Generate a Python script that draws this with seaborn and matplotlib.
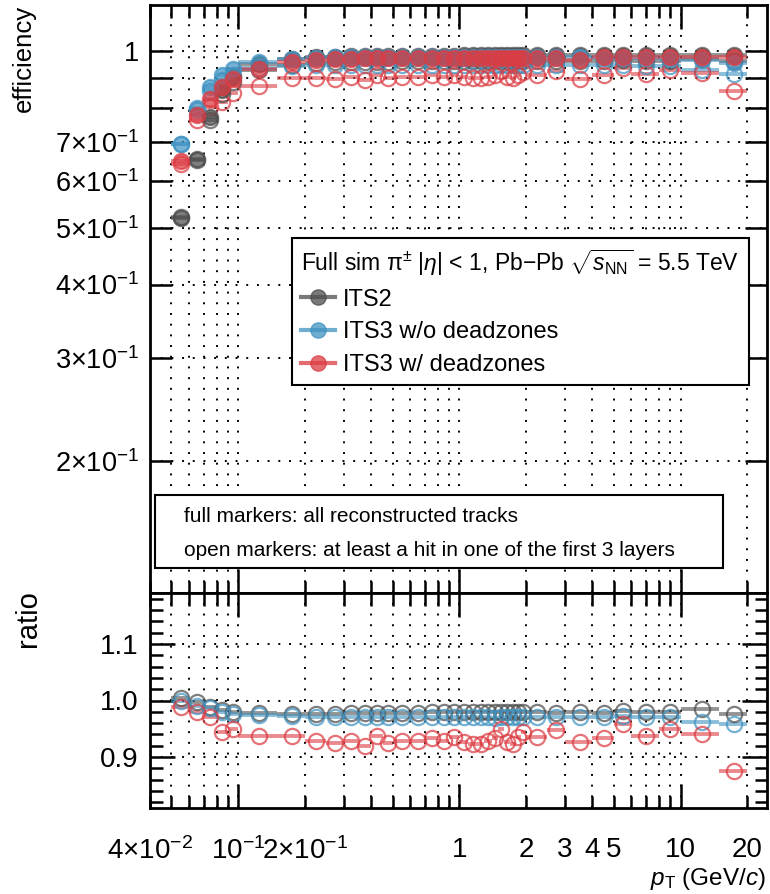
import numpy as np
import pandas as pd
import matplotlib
matplotlib.use("Agg")
import matplotlib.pyplot as plt
from matplotlib.lines import Line2D
from matplotlib.patches import Rectangle
import seaborn as sns

# pT bin edges (GeV/c)
pt_edges = [0.05, 0.06, 0.07, 0.08, 0.09, 0.10, 0.15, 0.20, 0.25, 0.30, 0.35,
            0.40, 0.45, 0.5, 0.6, 0.7, 0.8, 0.9, 1.0, 1.1, 1.2, 1.3, 1.4, 1.5,
            1.6, 1.7, 1.8, 1.9, 2.0, 2.5, 3.0, 4.0, 5.0, 6.0, 8.0, 10.0, 15.0, 20.0]

# efficiency, all reconstructed tracks (full markers)
its2_full = [0.520, 0.654, 0.774, 0.860, 0.905, 0.950, 0.970, 0.978, 0.980, 0.981,
             0.982, 0.982, 0.982, 0.983, 0.983, 0.983, 0.983, 0.983, 0.984, 0.984,
             0.984, 0.984, 0.984, 0.984, 0.984, 0.984, 0.984, 0.984, 0.984, 0.984,
             0.985, 0.985, 0.985, 0.985, 0.985, 0.985, 0.985]
its3_full = [0.696, 0.800, 0.868, 0.913, 0.932, 0.961, 0.972, 0.976, 0.977, 0.978,
             0.978, 0.978, 0.978, 0.978, 0.978, 0.978, 0.978, 0.978, 0.978, 0.978,
             0.978, 0.978, 0.978, 0.978, 0.978, 0.978, 0.978, 0.978, 0.978, 0.977,
             0.977, 0.976, 0.976, 0.975, 0.972, 0.965, 0.955]
its3dz_full = [0.649, 0.780, 0.828, 0.868, 0.896, 0.932, 0.960, 0.968, 0.970, 0.972,
               0.973, 0.974, 0.974, 0.975, 0.975, 0.975, 0.975, 0.975, 0.976, 0.976,
               0.976, 0.976, 0.976, 0.976, 0.976, 0.976, 0.976, 0.976, 0.976, 0.976,
               0.967, 0.977, 0.977, 0.977, 0.977, 0.977, 0.977]

# ratio open / full (hit in one of the first 3 layers)
its2_ratio = [1.004, 0.997, 0.988, 0.984, 0.980, 0.978, 0.977, 0.977, 0.977, 0.978,
              0.978, 0.978, 0.978, 0.978, 0.978, 0.979, 0.979, 0.979, 0.979, 0.979,
              0.979, 0.979, 0.979, 0.979, 0.979, 0.979, 0.979, 0.979, 0.979, 0.978,
              0.979, 0.978, 0.982, 0.979, 0.979, 0.985, 0.977]
its3_ratio = [1.000, 0.991, 0.986, 0.979, 0.977, 0.975, 0.973, 0.970, 0.971, 0.970,
              0.970, 0.971, 0.970, 0.970, 0.971, 0.970, 0.970, 0.970, 0.970, 0.971,
              0.970, 0.970, 0.969, 0.970, 0.970, 0.971, 0.970, 0.970, 0.970, 0.970,
              0.970, 0.971, 0.972, 0.970, 0.970, 0.962, 0.959]
its3dz_ratio = [0.988, 0.979, 0.970, 0.945, 0.949, 0.938, 0.937, 0.929, 0.925, 0.929,
                0.919, 0.937, 0.925, 0.929, 0.928, 0.933, 0.929, 0.935, 0.926, 0.924,
                0.924, 0.928, 0.933, 0.950, 0.926, 0.924, 0.935, 0.944, 0.935, 0.947,
                0.926, 0.933, 0.959, 0.938, 0.950, 0.941, 0.876]

names = ["ITS2", "ITS3 w/o deadzones", "ITS3 w/ deadzones"]
colors = ["#4d4d4d", "#4093c2", "#dc3c43"]

edges = np.array(pt_edges)
pt_lo, pt_hi = edges[:-1], edges[1:]
pt_mid = 0.5 * (pt_lo + pt_hi)

plt.rcParams.update({
    "font.family": ["Liberation Sans", "DejaVu Sans"],
    "mathtext.fontset": "custom",
    "mathtext.rm": "Liberation Sans",
    "mathtext.it": "Liberation Sans:italic",
    "mathtext.bf": "Liberation Sans:bold",
    "xtick.direction": "in", "ytick.direction": "in",
    "xtick.top": True, "ytick.right": True,
    "xtick.major.size": 17, "xtick.minor.size": 9,
    "ytick.major.size": 16, "ytick.minor.size": 9,
    "xtick.major.width": 1.8, "xtick.minor.width": 1.8,
    "ytick.major.width": 1.8, "ytick.minor.width": 1.8,
    "axes.linewidth": 2,
    "axes.axisbelow": False,
})

W, H = 770, 894
fig = plt.figure(figsize=(W / 100, H / 100), dpi=100)
ax1 = fig.add_axes([150 / W, 1 - 593 / H, 617 / W, 588 / H])
ax2 = fig.add_axes([150 / W, 1 - 808 / H, 617 / W, 215 / H])


def draw_series(ax, y, color, filled):
    ax.hlines(y, pt_lo, pt_hi, color=color, lw=2.8, alpha=0.6, zorder=3)
    sns.lineplot(x=pt_mid, y=y, ax=ax, color=color, marker="o", linestyle="",
                 markersize=11, markeredgewidth=1.6, markeredgecolor=color,
                 markerfacecolor=color if filled else "none", alpha=0.72,
                 sort=False, errorbar=None, legend=False, zorder=4)


for ax in (ax1, ax2):
    ax.set_xscale("log")

full = [its2_full, its3_full, its3dz_full]
ratio = [its2_ratio, its3_ratio, its3dz_ratio]
for f, r, c in zip(full, ratio, colors):
    opened = np.array(f) * np.array(r)
    draw_series(ax1, opened, c, False)
for f, c in zip(full, colors):
    draw_series(ax1, f, c, True)
for r, c in zip(ratio, colors):
    draw_series(ax2, r, c, False)

# x axis ticks, ROOT-like
x_major = [0.1, 1, 10]
x_minor = [0.04, 0.05, 0.06, 0.07, 0.08, 0.09, 0.2, 0.3, 0.4, 0.5, 0.6, 0.7, 0.8,
           0.9, 2, 3, 4, 5, 6, 7, 8, 9, 20]
minor_lab = {0.04: "4×10$^{-2}$", 0.2: "2×10$^{-1}$", 2: "2", 3: "3",
             4: "4", 5: "5", 20: "20"}
for ax in (ax1, ax2):
    ax.set_xticks(x_major, labels=["10$^{-1}$", "1", "10"])
    ax.set_xticks(x_minor, labels=[minor_lab.get(v, "") for v in x_minor], minor=True)
    ax.set_xlim(0.04, 24.6)
    ax.grid(which="both", axis="x", color="k", linestyle=(0, (1, 4.5)), lw=1.4)
    ax.grid(which="major", axis="y", color="k", linestyle=(0, (1, 4.5)), lw=1.4)
    for s in ax.spines.values():
        s.set_linewidth(2)
        s.set_color("k")
ax1.tick_params(which="both", labelbottom=False, labelsize=19.5, pad=8)
ax2.tick_params(which="both", labelsize=20, pad=8)
ax2.tick_params(axis="x", which="both", pad=21)

# y axis, top
ax1.set_yscale("log")
y_ticks = [0.2, 0.3, 0.4, 0.5, 0.6, 0.7, 0.8, 0.9, 1.0]
y_labs = ["2×10$^{-1}$", "3×10$^{-1}$", "4×10$^{-1}$", "5×10$^{-1}$",
          "6×10$^{-1}$", "7×10$^{-1}$", "", "", "1"]
ax1.set_yticks(y_ticks, labels=y_labs)
ax1.set_yticks([], minor=True)
ax1.set_ylim(0.119, 1.2)

# y axis, ratio
ax2.set_yticks([0.9, 1.0, 1.1], labels=["0.9", "1.0", "1.1"])
ax2.set_yticks([0.82, 0.84, 0.86, 0.88, 0.92, 0.94, 0.96, 0.98,
                1.02, 1.04, 1.06, 1.08, 1.12, 1.14, 1.16, 1.18], minor=True)
ax2.set_ylim(0.81, 1.19)
ax2.tick_params(axis="y", which="major", length=18)

fig.text(12 / W, 1 - 5 / H, "efficiency", rotation=90, ha="left", va="top", fontsize=18.5)
fig.text(14 / W, 1 - 590 / H, "ratio", rotation=90, ha="left", va="top", fontsize=21)
fig.text(766 / W, 1 - 879 / H, r"$p_{\rm T}$ (GeV/$c$)", ha="right", va="center",
         fontsize=17.5)

# legend
handles = [Line2D([], [], color=c, marker="o", lw=3, markersize=11, alpha=0.75,
                  markeredgecolor=c) for c in colors]
title = r"Full sim π$^{\pm}$ |$\eta$| < 1, Pb$-$Pb $\sqrt{s_{\rm NN}}$ = 5.5 TeV"
leg = ax1.legend(handles, names, title=title, loc="upper left",
                 bbox_to_anchor=(142 / 617, 1 - 233 / 588), frameon=True,
                 fancybox=False, edgecolor="k", framealpha=1, fontsize=17,
                 title_fontsize=16.5, alignment="left", handlelength=1.4,
                 handletextpad=0.35, labelspacing=0.45, borderpad=0.4,
                 borderaxespad=0)
leg.get_frame().set_linewidth(1.5)
leg.set_zorder(8)

# note box
ax1.add_patch(Rectangle((5 / 617, 1 - 563 / 588), 568 / 617, 73 / 588,
                        transform=ax1.transAxes, fc="white", ec="k", lw=1.5,
                        zorder=6))
ax1.text(34 / 617, 1 - 512 / 588, "full markers: all reconstructed tracks",
         transform=ax1.transAxes, va="center", fontsize=15, zorder=7)
ax1.text(34 / 617, 1 - 545 / 588,
         "open markers: at least a hit in one of the first 3 layers",
         transform=ax1.transAxes, va="center", fontsize=15, zorder=7)

fig.savefig("out.png", dpi=100)
